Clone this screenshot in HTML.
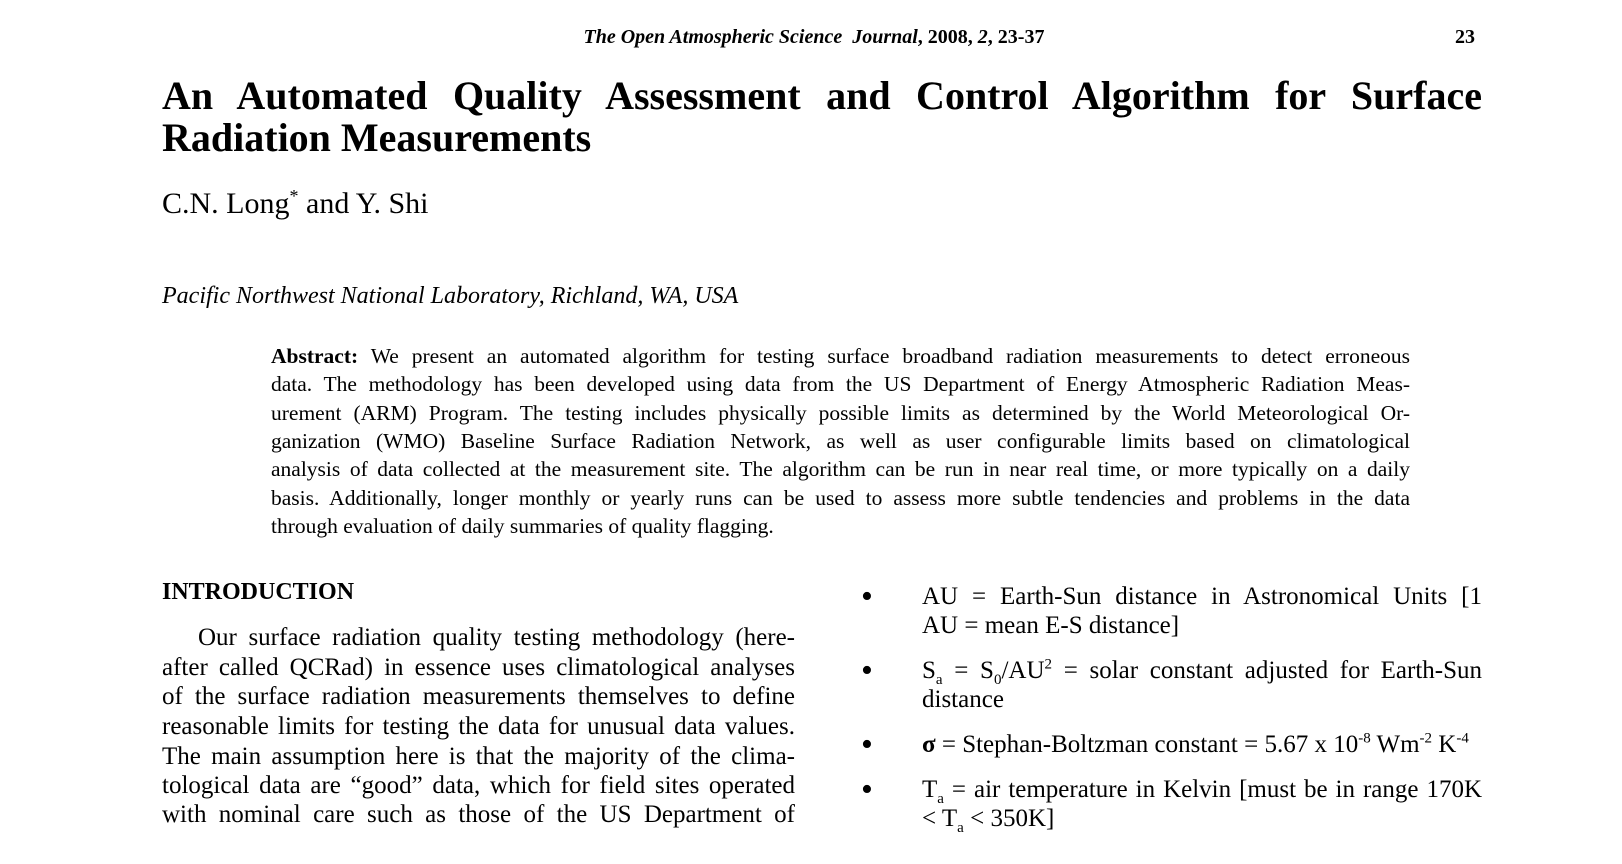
<!DOCTYPE html>
<html><head><meta charset="utf-8"><style>
body{margin:0;width:1622px;height:864px;background:#fff;overflow:hidden;font-family:"Liberation Serif",serif;color:#000;position:relative}
.l{position:absolute;white-space:nowrap;line-height:30px;height:30px}
.j{text-align:justify;text-align-last:justify;white-space:normal;overflow:hidden}
.ab{font-size:21.5px;left:271px;width:1139px}
.lc{font-size:25px;left:162px;width:633px}
.rc{font-size:25px;left:922px;width:560px}
.b{font-size:34px;left:861px;line-height:32px}
sub,sup{font-size:60%;line-height:0}
</style></head><body>
<div class="l" style="top:22px;left:0;width:1628px;text-align:center;font-size:20px;font-weight:bold;font-style:italic">The Open Atmospheric Science&nbsp; Journal<span style="font-style:normal">, 2008, </span>2<span style="font-style:normal">, 23-37</span></div>
<div class="l" style="top:22px;left:1455px;font-size:20px;font-weight:bold">23</div>
<div class="l j" style="top:73px;left:162px;width:1320px;height:46px;line-height:46px;font-size:40px;font-weight:bold">An Automated Quality Assessment and Control Algorithm for Surface</div>
<div class="l" style="top:115px;left:162px;height:46px;line-height:46px;font-size:40px;font-weight:bold">Radiation Measurements</div>
<div class="l" style="top:186px;left:162px;height:36px;line-height:36px;font-size:30px">C.N. Long<sup>*</sup> and Y. Shi</div>
<div class="l" style="top:281px;left:162px;font-size:24px;font-style:italic">Pacific Northwest National Laboratory, Richland, WA, USA</div>
<div>
<div class="l j ab" style="top:341px"><b>Abstract:</b> We present an automated algorithm for testing surface broadband radiation measurements to detect erroneous</div>
<div class="l j ab" style="top:369px">data. The methodology has been developed using data from the US Department of Energy Atmospheric Radiation Meas-</div>
<div class="l j ab" style="top:398px">urement (ARM) Program. The testing includes physically possible limits as determined by the World Meteorological Or-</div>
<div class="l j ab" style="top:426px">ganization (WMO) Baseline Surface Radiation Network, as well as user configurable limits based on climatological</div>
<div class="l j ab" style="top:454px">analysis of data collected at the measurement site. The algorithm can be run in near real time, or more typically on a daily</div>
<div class="l j ab" style="top:483px">basis. Additionally, longer monthly or yearly runs can be used to assess more subtle tendencies and problems in the data</div>
<div class="l ab" style="top:511px">through evaluation of daily summaries of quality flagging.</div>
</div>
<div class="l" style="top:577px;left:162px;font-size:24px;font-weight:bold">INTRODUCTION</div>
<div>
<div class="l j lc" style="top:623px;left:198px;width:597px">Our surface radiation quality testing methodology (here-</div>
<div class="l j lc" style="top:653px">after called QCRad) in essence uses climatological analyses</div>
<div class="l j lc" style="top:682px">of the surface radiation measurements themselves to define</div>
<div class="l j lc" style="top:712px">reasonable limits for testing the data for unusual data values.</div>
<div class="l j lc" style="top:742px">The main assumption here is that the majority of the clima-</div>
<div class="l j lc" style="top:771px">tological data are “good” data, which for field sites operated</div>
<div class="l j lc" style="top:800px">with nominal care such as those of the US Department of</div>
</div>
<div>
<div class="l b" style="top:581px">•</div>
<div class="l j rc" style="top:582px">AU = Earth-Sun distance in Astronomical Units [1</div>
<div class="l rc" style="top:611px">AU = mean E-S distance]</div>
<div class="l b" style="top:655px">•</div>
<div class="l j rc" style="top:656px">S<sub>a</sub> = S<sub>0</sub>/AU<sup>2</sup> = solar constant adjusted for Earth-Sun</div>
<div class="l rc" style="top:685px">distance</div>
<div class="l b" style="top:729px">•</div>
<div class="l rc" style="top:730px"><b>σ</b> = Stephan-Boltzman constant = 5.67 x 10<sup>-8</sup> Wm<sup>-2</sup> K<sup>-4</sup></div>
<div class="l b" style="top:774px">•</div>
<div class="l j rc" style="top:775px">T<sub>a</sub> = air temperature in Kelvin [must be in range 170K</div>
<div class="l rc" style="top:804px">&lt; T<sub>a</sub> &lt; 350K]</div>
</div>
</body></html>
